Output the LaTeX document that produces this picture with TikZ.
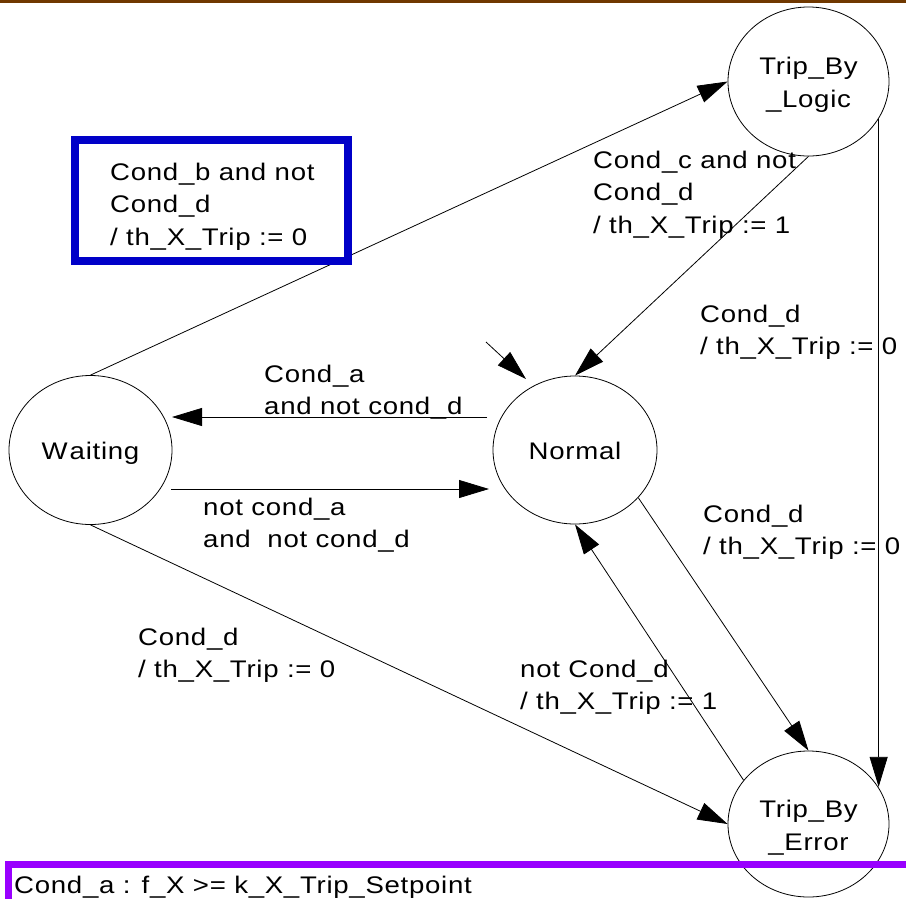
\documentclass[tikz,border=0pt]{standalone}
\usepackage{fontspec}
\setmainfont{Liberation Sans}[LetterSpace=3, FakeStretch=1.15]
\usetikzlibrary{arrows.meta,shapes.geometric}

\definecolor{barbrown}{RGB}{112,56,0}
\definecolor{noteblue}{RGB}{0,0,200}
\definecolor{notepurple}{RGB}{153,0,255}

% left-aligned multi-line text whose reference point is the first baseline
\newcommand\txtlines[1]{\begin{tabular}[t]{@{}l@{}}#1\end{tabular}}
% centred state name, first baseline raised by #1 above the node centre
\newcommand\statetext[2]{\raisebox{#1}[0pt][0pt]{\begin{tabular}[t]{@{}c@{}}#2\end{tabular}}}

\tikzset{
  state/.style={draw, ellipse, inner sep=0pt, line width=0.8pt,
                font=\fontsize{24}{33}\selectfont},
  lbl/.style={anchor=base west, inner sep=0pt,
              font=\fontsize{24}{32.5}\selectfont},
  arr/.style={line width=0.8pt, -{Triangle[length=30pt,width=18pt]}},
}

\begin{document}
\begin{tikzpicture}[x=1pt, y=-1pt]
\useasboundingbox (0,0) rectangle (906,898);
\clip (0,0) rectangle (906,898);
\fill[white] (0,0) rectangle (906,898);
\fill[barbrown] (0,0) rectangle (906,3);

% states
\node[state, minimum width=161pt, minimum height=149pt] (logic) at (808.5,81.5)
  {\statetext{7.5pt}{Trip\_By\\\_Logic}};
\node[state, minimum width=164pt, minimum height=148pt] (normal) at (575,450)
  {\statetext{-9pt}{Normal}};
\node[state, minimum width=163pt, minimum height=149pt] (waiting) at (90.5,450)
  {\statetext{-9pt}{W\kern2pt aiting}};
\node[state, minimum width=161pt, minimum height=146pt] (error) at (808.5,824)
  {\statetext{7pt}{Trip\_By\\\_Error}};

% transitions
\coordinate (init) at (486,342);
\draw[arr] (init) -- ([shift={(-49,-71)}]normal.center);
\draw[arr] (waiting.north) -- (logic.west);
\draw[arr] (logic.south) -- (normal.north);
\draw[arr] (logic.-28.4) -- (logic.-28.4 |- error.28);
\draw[arr] ([shift={(-88,-33)}]normal.center) -- ([shift={(81.5,-33)}]waiting.center);
\draw[arr] ([shift={(80.5,39)}]waiting.center) -- ([shift={(-86,39)}]normal.center);
\draw[arr] (normal.-37.3) -- (error.north);
\draw[arr] (error.146.7) -- (normal.south);
\draw[arr] (waiting.south) -- (error.west);

% transition labels
\draw[noteblue, line width=8pt] (75,139.5) rectangle (347.5,260.5);
\node[lbl] (lb) at (110,180) {\txtlines{Cond\_b and not\\Cond\_d\\/ th\_X\_Trip := 0}};
\node[lbl] (lc) at (593,168) {\txtlines{Cond\_c and not\\Cond\_d\\/ th\_X\_Trip := 1}};
\node[lbl] (ld1) at (700,322) {\txtlines{Cond\_d\\/ th\_X\_Trip := 0}};
\node[lbl] (la) at (264,382) {\txtlines{Cond\_a\\and not cond\_d}};
\node[lbl] (lna) at (203,515) {\txtlines{not cond\_a\\and~~not cond\_d}};
\node[lbl] (ld2) at (703,522) {\txtlines{Cond\_d\\/ th\_X\_Trip := 0}};
\node[lbl] (lnd) at (520,677) {\txtlines{not Cond\_d\\/ th\_X\_Trip := 1}};
\node[lbl] (ld3) at (138,645) {\txtlines{Cond\_d\\/ th\_X\_Trip := 0}};

% condition legend, running past the lower edge
\draw[notepurple, line width=7pt] (8.5,864.5) rectangle (1000,1000);
\node[lbl] (legend) at (14,893) {Cond\_a : f\_X >= k\_X\_Trip\_Setpoint};
\end{tikzpicture}
\end{document}
